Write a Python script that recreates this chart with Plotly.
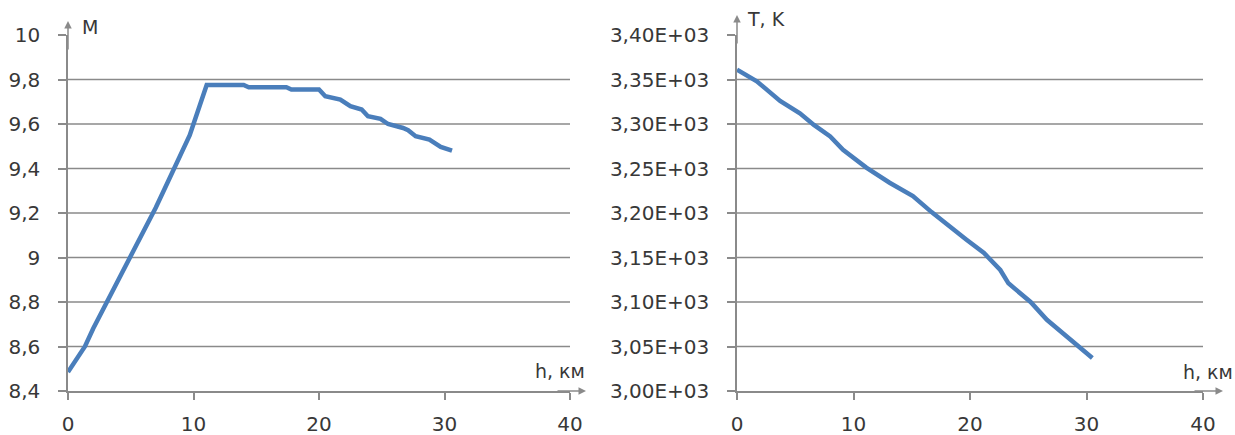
import plotly.graph_objects as go

# Mach number M versus altitude h
h_m = [0, 1, 1.35, 2, 3, 4, 4.3, 5, 6, 7, 8, 8.4, 9, 9.7, 10, 10.5, 11.05,
       14.0, 14.4, 17.4, 17.8, 20.0, 20.5, 21.7, 22.5, 23.4, 23.9, 24.9,
       25.5, 26.7, 27.1, 27.7, 28.8, 29.2, 29.7, 30.6]
m_vals = [8.485, 8.57, 8.60, 8.68, 8.79, 8.89, 8.925, 9.0, 9.11, 9.225, 9.345,
          9.395, 9.465, 9.55, 9.60, 9.69, 9.775, 9.775, 9.765, 9.765, 9.755,
          9.755, 9.725, 9.71, 9.68, 9.665, 9.635, 9.623, 9.60, 9.582, 9.572,
          9.545, 9.53, 9.515, 9.497, 9.48]

# Temperature T (K) versus altitude h
h_t = [0, 1.7, 3.7, 5.4, 6.6, 8.0, 9.1, 11.1, 13.1, 15.1, 16.7, 18.0, 19.7,
       21.2, 22.6, 23.3, 25.2, 26.6, 28.0, 29.2, 30.5]
t_vals = [3361, 3348, 3326, 3312, 3299, 3286, 3271, 3251, 3234, 3219, 3201,
          3187, 3170, 3155, 3136, 3121, 3100, 3080, 3065, 3051, 3037]

# Tick values and labels
x_ticks = [0, 10, 20, 30, 40]
x_labels = ["0", "10", "20", "30", "40"]
m_ticks = [8.4, 8.6, 8.8, 9.0, 9.2, 9.4, 9.6, 9.8, 10.0]
m_labels = ["8,4", "8,6", "8,8", "9", "9,2", "9,4", "9,6", "9,8", "10"]
t_ticks = [3000, 3050, 3100, 3150, 3200, 3250, 3300, 3350, 3400]
t_labels = ["3,00E+03", "3,05E+03", "3,10E+03", "3,15E+03", "3,20E+03",
            "3,25E+03", "3,30E+03", "3,35E+03", "3,40E+03"]

W, H = 1235, 435
LINE = "#4a7ebb"
AXIS = "#8a8a8a"
TEXT = "#383838"
FONT = "DejaVu Sans"


def px(x):
    return x / W


def py(y):
    return 1 - y / H


fig = go.Figure()
fig.add_trace(go.Scatter(x=h_m, y=m_vals, mode="lines",
                         line=dict(color=LINE, width=4.5),
                         xaxis="x", yaxis="y", showlegend=False))
fig.add_trace(go.Scatter(x=h_t, y=t_vals, mode="lines",
                         line=dict(color=LINE, width=4.5),
                         xaxis="x2", yaxis="y2", showlegend=False))

y_dom = [py(391), py(35)]
xaxis_common = dict(range=[0, 40], tickvals=x_ticks, ticktext=x_labels,
                    showgrid=False, zeroline=False, showline=True,
                    linecolor=AXIS, linewidth=1.5, ticks="outside",
                    ticklen=7, tickcolor=AXIS, tickwidth=1.5,
                    ticklabelstandoff=7,
                    tickfont=dict(family=FONT, size=20, color=TEXT))
yaxis_common = dict(showgrid=False, zeroline=False, showline=True,
                    linecolor=AXIS, linewidth=1.5, ticks="outside",
                    ticklen=8, tickcolor=AXIS, tickwidth=1.5,
                    ticklabelstandoff=14,
                    tickfont=dict(family=FONT, size=20, color=TEXT))

fig.update_layout(
    width=W, height=H,
    margin=dict(l=0, r=0, t=0, b=0, autoexpand=False),
    paper_bgcolor="white", plot_bgcolor="white",
    xaxis=dict(domain=[px(68), px(570)], anchor="y", **xaxis_common),
    yaxis=dict(domain=y_dom, anchor="x", range=[8.4, 10.0],
               tickvals=m_ticks, ticktext=m_labels, **yaxis_common),
    xaxis2=dict(domain=[px(737), px(1203)], anchor="y2", **xaxis_common),
    yaxis2=dict(domain=y_dom, anchor="x2", range=[3000, 3400],
                tickvals=t_ticks, ticktext=t_labels, **yaxis_common),
)

# Horizontal gridlines at the inner tick values
shapes = []
for v in m_ticks[1:-1]:
    shapes.append(dict(type="line", xref="x domain", yref="y", x0=0, x1=1,
                       y0=v, y1=v, line=dict(color=AXIS, width=1.5),
                       layer="below"))
for v in t_ticks[1:-1]:
    shapes.append(dict(type="line", xref="x2 domain", yref="y2", x0=0, x1=1,
                       y0=v, y1=v, line=dict(color=AXIS, width=1.5),
                       layer="below"))
fig.update_layout(shapes=shapes)

annotations = []


def arrow(x_head, y_head, dx, dy):
    annotations.append(dict(xref="paper", yref="paper", x=px(x_head),
                            y=py(y_head), ax=dx, ay=dy, text="",
                            showarrow=True, arrowhead=2, arrowsize=1,
                            arrowwidth=1.5, arrowcolor=AXIS))


# Axis arrows
arrow(68, 21, 0, 30)
arrow(586, 391, -30, 0)
arrow(737, 15, 0, 30)
arrow(1223, 391, -30, 0)


def label(text, x, y):
    annotations.append(dict(xref="paper", yref="paper", x=px(x), y=py(y),
                            text=text, showarrow=False, xanchor="left",
                            yanchor="middle",
                            font=dict(family=FONT, size=19, color=TEXT)))


label("M", 80, 27)
label("T, K", 745, 19)
label("h, км", 533, 371)
label("h, км", 1181, 372)

fig.update_layout(annotations=annotations)

fig.write_html("out.html")
